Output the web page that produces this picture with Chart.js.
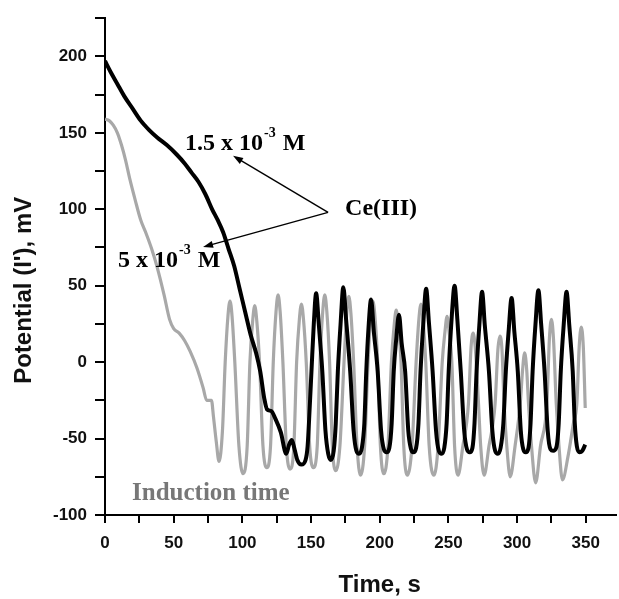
<!DOCTYPE html>
<html>
<head>
<meta charset="utf-8">
<script src="https://cdn.jsdelivr.net/npm/chart.js@4.4.0/dist/chart.umd.min.js"></script>
<style>
  html, body { margin: 0; padding: 0; background: #fff; overflow: hidden; }
  #wrap { width: 619px; height: 599px; }
</style>
</head>
<body>
<div id="wrap"><canvas id="chart"></canvas></div>
<script>
// 1.5 x 10^-3 M Ce(III) (black trace)
const blackTime = [
  0, 4, 9, 14, 20, 26, 32, 38, 45, 52,
  58, 63, 68, 73, 78, 82, 86, 90, 94, 98,
  102, 106, 110, 113, 116, 118, 121, 124, 128, 132,
  134, 136, 138, 140, 143, 146, 147.5, 149, 150.3, 152,
  153.7, 155.7, 158.2, 160.5, 162.5, 164.5, 166.5, 168, 169.5, 171.5,
  173.5, 175.5, 178.5, 181, 183, 185, 187, 188.8, 190.2, 191.8,
  193.7, 195.7, 198.5, 201, 203, 205, 207, 208.7, 210.2, 212,
  214, 216, 218.5, 220.8, 222.8, 224.5, 226.5, 228.2, 229.7, 231.7,
  233.8, 235.8, 238.5, 241, 243, 245, 247, 248.7, 250.2, 252.3,
  254.5, 256.5, 259, 261.5, 263.5, 265.5, 267.5, 269, 270.5, 272.5,
  274.5, 276.5, 279.5, 282, 284, 286, 288, 290, 291.8, 293.9,
  296, 298, 300.5, 302.7, 304.5, 306.3, 308.3, 309.8, 311.3, 313.4,
  315.5, 317.5, 320, 322.3, 324.3, 326.3, 328.5, 330.3, 331.8, 333.9,
  336, 338, 340.5, 342, 343.5, 345.5, 347.5, 349.6
];
const blackPotential = [
  197, 190, 182, 174, 166, 158, 152, 147, 142, 136,
  130, 124, 118, 110, 100, 93, 85, 74, 63, 48,
  33, 18, 6, -6, -24, -31, -32, -37, -46, -60,
  -54, -51, -57, -64, -67, -64, -55, -30, -6, 25,
  45, 24, -6, -45, -60, -64, -58, -40, -6, 25,
  49, 28, -6, -45, -58, -60, -56, -40, -6, 22,
  41, 20, -6, -45, -57, -59, -56, -40, -6, 15,
  31, 12, -6, -45, -57, -59, -56, -40, -6, 25,
  48, 26, -6, -45, -58, -60, -56, -40, -6, 28,
  50, 28, -6, -45, -57, -59, -56, -40, -6, 24,
  46, 24, -6, -45, -58, -60, -56, -40, -6, 21,
  42, 20, -6, -45, -57, -59, -56, -40, -6, 25,
  47, 25, -6, -45, -57, -58, -56, -40, -6, 24,
  46, 24, -6, -40, -55, -59, -58, -54
];

// 5 x 10^-3 M Ce(III) (grey trace)
const greyTime = [
  0, 3, 6, 9, 12, 15, 18, 22, 26, 30,
  34, 38, 43, 47, 50, 54, 58, 62, 67, 71.5,
  74, 77.5, 79, 81, 83, 85.5, 87.5, 89.5, 91, 92.5,
  94.5, 97.5, 100.5, 103.5, 105.5, 107.5, 109, 110.5, 112.5, 115,
  117.8, 120.5, 122.5, 124.5, 126, 127.5, 129.5, 132, 134.7, 137.5,
  139.5, 141.5, 143, 144.5, 146.5, 149, 151.7, 154.5, 156.5, 158.5,
  160, 161.5, 163.5, 165.5, 168, 171, 174, 176, 177.5, 179,
  181, 183.5, 186, 189, 191.5, 193.5, 195, 196.5, 198.5, 200.5,
  203, 206, 208.5, 210.5, 212, 213.5, 215.5, 217.5, 220, 223.5,
  226.5, 228.5, 230, 231.5, 233.5, 236, 239.5, 242.5, 245.5, 247.5,
  249, 250.5, 252.5, 254.5, 257, 260.5, 264.6, 266.5, 268, 269.5,
  271.9, 273.5, 276, 279.5, 284, 286, 287.5, 289, 290.5, 292.5,
  295, 298.5, 302.3, 304, 305.5, 307, 308.3, 310.5, 313.5, 317,
  321.7, 323.5, 325, 326.5, 328.5, 330.5, 333, 337, 341, 343.5,
  345.2, 346.7, 348.2, 349.6
];
const greyPotential = [
  159, 158, 155, 150, 142, 132, 120, 106, 93, 84,
  74, 62, 44, 28, 22, 19, 14, 7, -4, -17,
  -25, -25, -36, -52, -65, -45, 0, 30, 40, 30,
  0, -55, -73, -55, 0, 27, 37, 27, 0, -55,
  -69, -55, 0, 33, 44, 33, 0, -55, -70, -55,
  0, 28, 38, 28, 0, -55, -69, -55, 0, 33,
  44, 33, 0, -55, -71, -55, 0, 32, 43, 32,
  0, -55, -74, -55, 0, 30, 40, 30, 0, -55,
  -73, -55, 0, 24, 34, 24, 0, -55, -74, -55,
  0, 28, 38, 28, 0, -55, -74, -55, 0, 20,
  30, 20, 0, -55, -74, -55, -27, 10, 19, 10,
  -27, -55, -74, -55, -27, 8, 17, 8, -27, -55,
  -75, -55, -27, -5, 6, -5, -27, -55, -79, -55,
  -27, 15, 28, 15, -27, -55, -77, -62, -40, -27,
  10, 23, 10, -30
];

const xMajor = [0, 50, 100, 150, 200, 250, 300, 350];
const yMajor = [-100, -50, 0, 50, 100, 150, 200];

const toPoints = (ts, vs) => ts.map((t, i) => ({ x: t, y: vs[i] }));

const sansBold = '"Liberation Sans", Arial, sans-serif';
const serifBold = '"Liberation Serif", "Times New Roman", serif';

function arrow(ctx, x0, y0, x1, y1) {
  const a = Math.atan2(y1 - y0, x1 - x0);
  ctx.beginPath();
  ctx.moveTo(x0, y0);
  ctx.lineTo(x1 - 6 * Math.cos(a), y1 - 6 * Math.sin(a));
  ctx.stroke();
  ctx.beginPath();
  ctx.moveTo(x1, y1);
  ctx.lineTo(x1 - 10 * Math.cos(a) + 3.5 * Math.sin(a), y1 - 10 * Math.sin(a) - 3.5 * Math.cos(a));
  ctx.lineTo(x1 - 10 * Math.cos(a) - 3.5 * Math.sin(a), y1 - 10 * Math.sin(a) + 3.5 * Math.cos(a));
  ctx.closePath();
  ctx.fill();
}

function concLabel(ctx, base, sup, tail, x, y) {
  ctx.font = 'bold 24px ' + serifBold;
  ctx.fillText(base, x, y);
  let w = ctx.measureText(base).width;
  ctx.font = 'bold 14px ' + serifBold;
  ctx.fillText(sup, x + w + 1, y - 13);
  w += ctx.measureText(sup).width + 2;
  ctx.font = 'bold 24px ' + serifBold;
  ctx.fillText(tail, x + w, y);
}

const notes = {
  id: 'notes',
  afterDraw(chart) {
    const { ctx, chartArea, scales: { x, y } } = chart;
    const X = t => x.getPixelForValue(t);
    const Y = v => y.getPixelForValue(v);
    ctx.save();
    ctx.strokeStyle = '#000';
    ctx.fillStyle = '#000';
    ctx.lineWidth = 1.4;
    arrow(ctx, X(162.4), Y(98), X(93.2), Y(135));
    arrow(ctx, X(162.4), Y(98), X(71.4), Y(75.3));

    ctx.textAlign = 'left';
    ctx.textBaseline = 'alphabetic';
    concLabel(ctx, '1.5 x 10', '-3', ' M', X(58.3), Y(139));
    concLabel(ctx, '5 x 10', '-3', ' M', X(9.5), Y(62.3));
    ctx.font = 'bold 24px ' + serifBold;
    ctx.fillText('Ce(III)', X(174.8), Y(96));
    ctx.fillStyle = '#777';
    ctx.font = 'bold 25px ' + serifBold;
    ctx.fillText('Induction time', X(19.7), Y(-90));

    // axis titles
    ctx.fillStyle = '#111';
    ctx.font = 'bold 24px ' + sansBold;
    ctx.textAlign = 'center';
    ctx.textBaseline = 'middle';
    ctx.fillText('Time, s', X(200), chartArea.bottom + 70);
    ctx.translate(chartArea.left - 81, Y(47));
    ctx.rotate(-Math.PI / 2);
    ctx.fillText("Potential (I'), mV", 0, 0);
    ctx.restore();
  }
};

new Chart(document.getElementById('chart'), {
  type: 'line',
  data: {
    datasets: [
      {
        label: '1.5 x 10-3 M',
        data: toPoints(blackTime, blackPotential),
        borderColor: '#000',
        borderWidth: 4,
        pointRadius: 0,
        cubicInterpolationMode: 'monotone'
      },
      {
        label: '5 x 10-3 M',
        data: toPoints(greyTime, greyPotential),
        borderColor: '#a8a8a8',
        borderWidth: 3.2,
        pointRadius: 0,
        cubicInterpolationMode: 'monotone'
      }
    ]
  },
  options: {
    responsive: true,
    maintainAspectRatio: false,
    animation: false,
    layout: { padding: { top: 15, right: 3, left: 0, bottom: 0 } },
    plugins: { legend: { display: false }, tooltip: { enabled: false } },
    scales: {
      x: {
        type: 'linear',
        min: 0,
        max: 372,
        afterFit: s => { s.height = 84; },
        border: { display: true, color: '#000', width: 2 },
        grid: { drawOnChartArea: false, drawTicks: true, tickLength: 8, tickColor: '#000', lineWidth: 2 },
        ticks: {
          stepSize: 25,
          includeBounds: false,
          padding: 10,
          color: '#111',
          font: { family: sansBold, size: 17, weight: 'bold' },
          maxRotation: 0,
          autoSkip: false,
          callback: v => xMajor.includes(v) ? String(v) : ''
        }
      },
      y: {
        type: 'linear',
        min: -100,
        max: 225,
        afterFit: s => { s.width = 105; },
        border: { display: true, color: '#000', width: 2 },
        grid: { drawOnChartArea: false, drawTicks: true, tickLength: 10, tickColor: '#000', lineWidth: 2 },
        ticks: {
          stepSize: 25,
          padding: 8,
          color: '#111',
          font: { family: sansBold, size: 17, weight: 'bold' },
          autoSkip: false,
          callback: v => yMajor.includes(v) ? String(v) : ''
        }
      }
    }
  },
  plugins: [notes]
});
</script>
</body>
</html>
